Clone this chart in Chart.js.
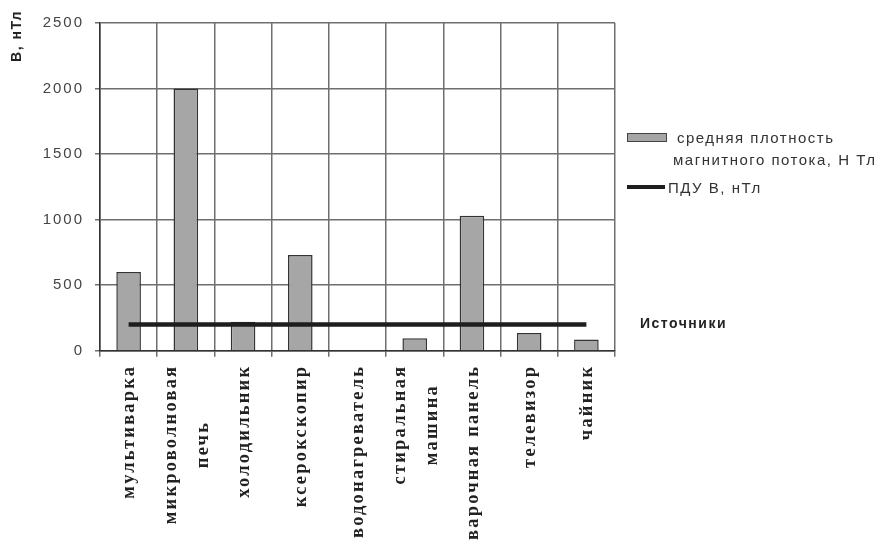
<!DOCTYPE html>
<html><head><meta charset="utf-8">
<script src="https://cdn.jsdelivr.net/npm/chart.js@4.4.0/dist/chart.umd.min.js"></script>
<style>
html,body{margin:0;padding:0;background:#fff;}
#wrap{position:relative;width:880px;height:542px;overflow:hidden;}
#c{position:absolute;left:0;top:0;}
.t{position:absolute;font-family:"Liberation Sans",Arial,sans-serif;font-size:15px;letter-spacing:1.5px;color:#333;line-height:22px;white-space:nowrap;}
.sw{position:absolute;box-sizing:border-box;}
</style></head><body>
<div id="wrap">
<canvas id="c" width="880" height="542"></canvas>
<div class="sw" style="left:627px;top:133px;width:40px;height:9px;background:#a6a6a6;border:1px solid #444;"></div>
<div class="t" style="left:677px;top:127px;">средняя плотность</div>
<div class="t" style="left:673px;top:149px;">магнитного потока, Н Тл</div>
<div class="sw" style="left:627px;top:185px;width:38px;height:4px;background:#1e1e1e;"></div>
<div class="t" style="left:668px;top:177px;">ПДУ В, нТл</div>
<div class="t" style="left:640px;top:313px;font-weight:bold;font-size:14px;letter-spacing:1.5px;color:#222;line-height:20px;">Источники</div>
</div>
<script>
const categories = [
  ['мультиварка'],
  ['микроволновая', 'печь'],
  ['холодильник'],
  ['ксерокскопир'],
  ['водонагреватель'],
  ['стиральная', 'машина'],
  ['варочная панель'],
  ['телевизор'],
  ['чайник']
];
const barValues = [600, 2000, 220, 730, 0, 95, 1030, 135, 85];
const limitValues = [200, 200, 200, 200, 200, 200, 200, 200, 200];
const yTickValues = [0, 500, 1000, 1500, 2000, 2500];
const barLabel = 'средняя плотность магнитного потока, Н Тл';
const lineLabel = 'ПДУ В, нТл';
const yTitle = 'В, нТл';

const spacingPlugin = {
  id: 'spacing',
  beforeDraw(chart) { chart.ctx.letterSpacing = '2px'; }
};

const textPlugin = {
  id: 'texts',
  afterDraw(chart) {
    const ctx = chart.ctx, xs = chart.scales.x;
    ctx.save();
    ctx.font = 'bold 18.5px "Liberation Serif", serif';
    ctx.letterSpacing = '2.2px';
    ctx.fillStyle = '#222';
    ctx.textAlign = 'center';
    ctx.textBaseline = 'middle';
    const lh = 32;
    categories.forEach((lines, i) => {
      const x = xs.getPixelForValue(i);
      const w = Math.max(...lines.map(l => ctx.measureText(l).width));
      ctx.save();
      ctx.translate(x + 1, xs.top + 14);
      ctx.rotate(-Math.PI / 2);
      lines.forEach((l, j) => {
        const off = (j - (lines.length - 1) / 2) * lh;
        ctx.fillText(l, -w / 2, off);
      });
      ctx.restore();
    });
    // y axis title
    ctx.font = 'bold 14px "Liberation Sans", Arial, sans-serif';
    ctx.letterSpacing = '1.5px';
    ctx.fillStyle = '#222';
    ctx.textAlign = 'right';
    ctx.translate(17, 10);
    ctx.rotate(-Math.PI / 2);
    ctx.fillText(yTitle, 0, 0);
    ctx.restore();
  }
};

new Chart(document.getElementById('c'), {
  data: {
    labels: categories,
    datasets: [
      {
        type: 'line',
        label: lineLabel,
        data: limitValues,
        borderColor: '#1e1e1e',
        borderWidth: 4.5,
        pointRadius: 0,
        fill: false,
        order: 0
      },
      {
        type: 'bar',
        label: barLabel,
        data: barValues,
        backgroundColor: '#a6a6a6',
        borderColor: '#333',
        borderWidth: 1.5,
        categoryPercentage: 1,
        barPercentage: 0.43,
        order: 1
      }
    ]
  },
  options: {
    responsive: false,
    devicePixelRatio: 1,
    animation: false,
    layout: { padding: { left: 0, top: 23, right: 265, bottom: 0 } },
    plugins: { legend: { display: false }, tooltip: { enabled: false } },
    scales: {
      x: {
        type: 'category',
        offset: true,
        grid: { offset: true, color: '#6f6f6f', lineWidth: 1.5, drawTicks: true, tickLength: 6 },
        border: { color: '#333', width: 1.5 },
        ticks: { display: false },
        afterFit(s) { s.height = 191.3; }
      },
      y: {
        min: 0,
        max: 2500,
        afterBuildTicks(s) { s.ticks = yTickValues.map(v => ({ value: v })); },
        grid: { color: '#6f6f6f', lineWidth: 1.5, tickLength: 5 },
        border: { color: '#333', width: 1.5 },
        ticks: {
          color: '#444', padding: 11,
          font: { family: '"Liberation Sans", Arial, sans-serif', size: 15 },
          callback: (v) => String(v)
        },
        afterFit(s) { s.width = 100; }
      }
    }
  },
  plugins: [spacingPlugin, textPlugin]
});
</script>
</body></html>
